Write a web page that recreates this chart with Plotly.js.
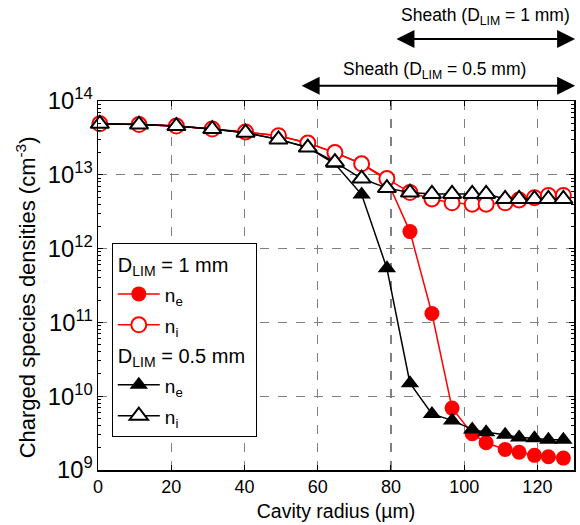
<!DOCTYPE html>
<html>
<head>
<meta charset="utf-8">
<script src="https://cdn.plot.ly/plotly-3.0.1.min.js"></script>
<style>html,body{margin:0;padding:0;background:#fff;}#chart{width:580px;height:525px;}</style>
</head>
<body>
<div id="chart"></div>
<script>
// Cavity radius (µm)
const radius = [0.5, 11.2, 21.4, 31.2, 40.3, 49.3, 57.3, 64.7, 72, 78.9, 85.2, 91.2, 96.7, 102.2, 106, 111.2, 115, 119.2, 123, 127.1];

// D_LIM = 1 mm
const ne_1mm = [4.9e13, 4.79e13, 4.57e13, 4.17e13, 3.8e13, 3.39e13, 2.69e13, 2.0e13, 1.41e13, 8.5e12, 1.7e12, 1.32e11, 6.9e9, 3.1e9, 2.34e9, 1.9e9, 1.74e9, 1.58e9, 1.51e9, 1.45e9];
const ni_1mm = [4.9e13, 4.79e13, 4.57e13, 4.17e13, 3.8e13, 3.39e13, 2.69e13, 2.0e13, 1.41e13, 8.9e12, 5.75e12, 4.7e12, 4.17e12, 4.0e12, 4.0e12, 4.17e12, 4.57e12, 4.9e12, 5.25e12, 5.25e12];

// D_LIM = 0.5 mm
const ne_05mm = [4.9e13, 4.79e13, 4.57e13, 4.17e13, 3.72e13, 3.02e13, 2.34e13, 1.41e13, 5.4e12, 5.4e11, 1.5e10, 5.75e9, 4.7e9, 3.55e9, 3.24e9, 3.0e9, 2.75e9, 2.7e9, 2.57e9, 2.57e9];
const ni_05mm = [4.9e13, 4.79e13, 4.57e13, 4.17e13, 3.72e13, 3.02e13, 2.34e13, 1.48e13, 8.9e12, 6.6e12, 5.75e12, 5.5e12, 5.5e12, 5.5e12, 5.5e12, 4.7e12, 4.7e12, 4.7e12, 4.7e12, 4.7e12];

const xTicks = [0, 20, 40, 60, 80, 100, 120];
const groupTitles = ['D<sub>LIM</sub> = 1 mm', 'D<sub>LIM</sub> = 0.5 mm'];
const seriesNames = ['n<sub>e</sub>', 'n<sub>i</sub>'];
const sheathLabels = ['Sheath (D<sub>LIM</sub> = 1 mm)', 'Sheath (D<sub>LIM</sub> = 0.5 mm)'];
const sheathStart = [81.1, 55.2];
const sheathEnd = 130.3;
const yTitle = 'Charged species densities (cm<sup>-3</sup>)';

const FONT = 'Liberation Sans, Arial, sans-serif';
const RED = '#ff0000';

function tr(y, name, group, title, color, filled, symbol) {
  return {
    x: radius, y: y, name: '<span style="font-size:19px">' + name + '</span>',
    type: 'scatter', mode: 'lines+markers',
    legendgroup: group,
    legendgrouptitle: {text: title, font: {family: FONT, size: 20, color: '#000'}},
    line: {color: color, width: 1.5},
    marker: {symbol: symbol, size: symbol === 'circle' ? 15 : 16,
             color: filled ? color : '#ffffff',
             line: {color: color, width: filled ? 0 : 2}},
    cliponaxis: false
  };
}

const data = [
  tr(ne_1mm, seriesNames[0], 'g1', groupTitles[0], RED, true, 'circle'),
  tr(ni_1mm, seriesNames[1], 'g1', groupTitles[0], RED, false, 'circle'),
  tr(ne_05mm, seriesNames[0], 'g2', groupTitles[1], '#000000', true, 'triangle-up'),
  tr(ni_05mm, seriesNames[1], 'g2', groupTitles[1], '#000000', false, 'triangle-up')
];

const arrowStyle = {showarrow: true, arrowside: 'end+start', arrowhead: 2, startarrowhead: 2,
   arrowsize: 1.8, startarrowsize: 1.8, arrowwidth: 2, arrowcolor: '#000', standoff: 0, startstandoff: 0};

const annotations = [
  {x: 105.7, y: 1.228, xref: 'x', yref: 'paper', text: sheathLabels[0], showarrow: false,
   font: {family: FONT, size: 17.5, color: '#000'}, xanchor: 'center', yanchor: 'middle'},
  {x: 92, y: 1.082, xref: 'x', yref: 'paper', text: sheathLabels[1], showarrow: false,
   font: {family: FONT, size: 17.5, color: '#000'}, xanchor: 'center', yanchor: 'middle'},
  Object.assign({x: sheathEnd, y: 1.168, xref: 'x', yref: 'paper', ax: sheathStart[0], ay: 0,
   axref: 'x', ayref: 'pixel', text: ''}, arrowStyle),
  Object.assign({x: sheathEnd, y: 1.041, xref: 'x', yref: 'paper', ax: sheathStart[1], ay: 0,
   axref: 'x', ayref: 'pixel', text: ''}, arrowStyle),
  {x: -0.152, y: 0.467, xref: 'paper', yref: 'paper', text: yTitle, textangle: -90, showarrow: false,
   font: {family: FONT, size: 22, color: '#000'}, xanchor: 'center', yanchor: 'middle'}
];

const layout = {
  width: 580, height: 525,
  margin: {l: 98, r: 6, t: 101, b: 55},
  paper_bgcolor: '#fff', plot_bgcolor: '#fff',
  font: {family: FONT, size: 17, color: '#000'},
  showlegend: true,
  legend: {x: 0.029, y: 0.614, xanchor: 'left', yanchor: 'top',
           bordercolor: '#000', borderwidth: 1, bgcolor: '#fff',
           traceorder: 'grouped', tracegroupgap: 0, itemwidth: 42,
           font: {family: FONT, size: 21.5, color: '#000'}},
  xaxis: {
    range: [0, 130], tickvals: xTicks, ticktext: xTicks.map(String),
    showline: true, linecolor: '#000', linewidth: 1.5, mirror: 'allticks',
    ticks: 'inside', ticklen: 5, tickcolor: '#000',
    showgrid: true, gridcolor: '#808080', gridwidth: 1.3, griddash: 'dash',
    zeroline: false,
    tickfont: {family: FONT, size: 18},
    title: {text: 'Cavity radius (\u00b5m)', font: {family: FONT, size: 19.5}, standoff: 8}
  },
  yaxis: {
    type: 'log', range: [9, 14], dtick: 1, exponentformat: 'power',
    showline: true, linecolor: '#000', linewidth: 1.5, mirror: 'allticks',
    ticks: 'inside', ticklen: 5, tickcolor: '#000',
    minor: {ticks: 'inside', ticklen: 3, tickcolor: '#000', showgrid: false},
    showgrid: true, gridcolor: '#808080', gridwidth: 1.3, griddash: 'dash',
    zeroline: false,
    tickfont: {family: FONT, size: 19}
  },
  annotations: annotations
};

Plotly.newPlot('chart', data, layout, {displayModeBar: false, staticPlot: true});
</script>
</body>
</html>
